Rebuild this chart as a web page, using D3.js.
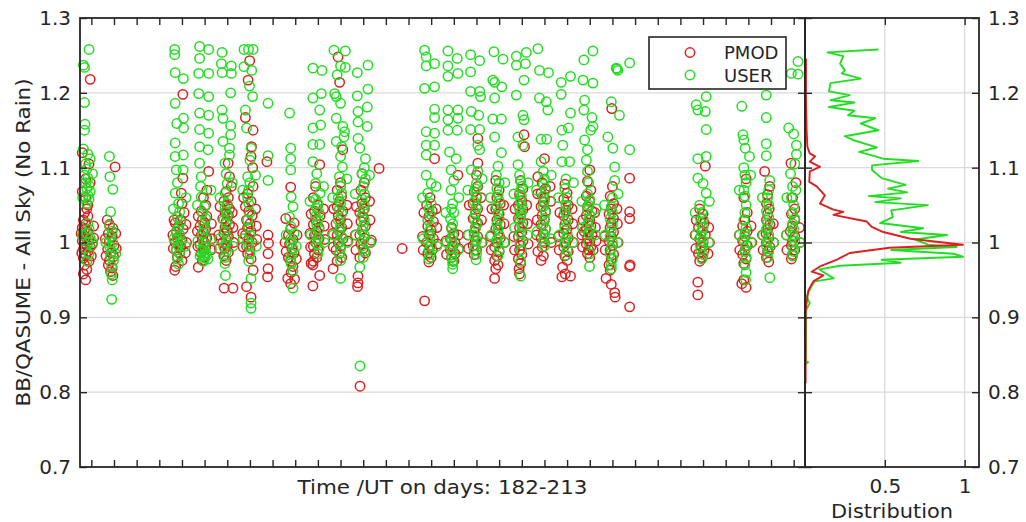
<!DOCTYPE html>
<html>
<head>
<meta charset="utf-8">
<script src="https://cdn.jsdelivr.net/npm/d3@7"></script>
<style>
    body { margin: 0; background: #fff; }
    #chart { width: 1026px; height: 522px; }
    text { font-family: "DejaVu Sans", sans-serif; fill: #262626; }
</style>
</head>
<body>
<div id="chart"></div>
<script>

// ---- data ----
const seriesNames = ["PMOD", "USER"];
const yTickValues = [0.7, 0.8, 0.9, 1.0, 1.1, 1.2, 1.3];
const yTickLabels = ["0.7", "0.8", "0.9", "1", "1.1", "1.2", "1.3"];
const distTickValues = [0.5, 1];
const distTickLabels = ["0.5", "1"];
const dayRange = [182, 213];

// [day (fractional), ratio]
const pmodPoints = [
    // 182
    [182.45,1.218],[182.10,1.120],[182.40,1.105],[182.25,1.085],[182.45,1.080],[182.10,1.068],[182.25,1.060],[182.35,1.050],
    [182.30,1.045],[182.20,1.040],[182.35,1.035],[182.15,1.030],[182.25,1.025],[182.10,1.020],[182.20,1.017],[182.35,1.014],
    [182.15,1.010],[182.25,1.007],[182.40,1.004],[182.10,1.002],[182.20,0.999],[182.30,0.996],[182.45,0.994],[182.15,0.991],
    [182.35,0.988],[182.25,0.984],[182.15,0.979],[182.40,0.975],[182.20,0.970],[182.30,0.964],[182.15,0.958],[182.25,0.950],
    [182.05,1.012],[182.60,1.006],[182.55,0.998],[182.08,0.986],[182.60,1.022],[182.50,0.982],
    // 183
    [183.55,1.101],[183.20,1.030],[183.30,1.024],[183.45,1.019],[183.25,1.012],[183.42,1.008],[183.30,1.002],[183.50,0.996],
    [183.22,0.991],[183.38,0.986],[183.48,0.981],[183.30,0.976],[183.25,0.970],[183.42,0.966],[183.35,0.961],[183.45,0.956],
    [183.12,1.005],[183.60,0.992],[183.15,0.982],[183.58,1.012],
    // 186
    [186.54,1.198],[186.54,1.086],[186.47,1.066],[186.50,1.052],[186.60,1.040],[186.30,1.034],[186.45,1.030],[186.20,1.026],
    [186.35,1.022],[186.55,1.018],[186.25,1.014],[186.40,1.010],[186.30,1.006],[186.50,1.003],[186.20,1.000],[186.35,0.997],
    [186.45,0.994],[186.25,0.990],[186.40,0.986],[186.30,0.981],[186.50,0.976],[186.22,0.968],[186.18,0.963],
    [186.10,1.010],[186.70,1.000],[186.12,0.992],[186.68,1.024],[186.65,0.986],[186.15,1.030],
    // 187
    [187.68,1.095],[187.60,1.070],[187.45,1.060],[187.55,1.050],[187.35,1.042],[187.60,1.035],[187.40,1.030],[187.50,1.026],
    [187.30,1.022],[187.55,1.018],[187.45,1.014],[187.35,1.010],[187.60,1.006],[187.40,1.003],[187.50,1.000],[187.30,0.997],
    [187.55,0.994],[187.45,0.990],[187.35,0.986],[187.50,0.981],[187.40,0.976],[187.22,0.967],
    [187.18,1.015],[187.82,1.005],[187.20,0.995],[187.80,1.025],[187.78,0.990],[187.22,1.035],
    // 188
    [188.54,1.106],[188.60,1.088],[188.68,1.075],[188.45,1.068],[188.55,1.060],[188.35,1.055],[188.50,1.050],[188.60,1.045],
    [188.40,1.040],[188.55,1.036],[188.30,1.032],[188.45,1.028],[188.60,1.024],[188.40,1.020],[188.50,1.016],[188.35,1.012],
    [188.55,1.008],[188.45,1.004],[188.30,1.000],[188.50,0.996],[188.40,0.992],[188.55,0.987],[188.35,0.982],[188.45,0.976],
    [188.36,0.939],[188.75,0.939],
    [188.12,1.010],[188.78,1.000],[188.15,0.992],[188.75,1.020],[188.72,1.040],[188.18,1.048],
    // 189
    [189.49,1.243],[189.42,1.217],[189.30,1.167],[189.64,1.150],[189.57,1.128],[189.55,1.115],[189.62,1.100],[189.64,1.075],
    [189.40,1.065],[189.55,1.055],[189.30,1.048],[189.45,1.042],[189.60,1.036],[189.35,1.030],[189.50,1.025],[189.40,1.020],
    [189.55,1.015],[189.30,1.010],[189.45,1.005],[189.60,1.000],[189.35,0.995],[189.50,0.990],[189.40,0.985],[189.55,0.978],
    [189.64,0.963],[189.35,0.941],[189.55,0.927],
    [189.18,1.012],[189.80,1.004],[189.20,0.994],[189.78,1.022],[189.75,1.045],[189.22,1.060],
    // 190
    [190.25,1.108],[190.30,1.010],[190.32,0.999],[190.30,0.985],[190.30,0.965],[190.28,0.954],
    // 191
    [191.30,1.074],[191.08,1.032],[191.45,1.026],[191.30,1.018],[191.20,1.010],[191.40,1.004],[191.25,0.998],[191.35,0.992],
    [191.45,0.986],[191.20,0.980],[191.30,0.975],[191.40,0.968],[191.32,0.960],[191.17,0.952],[191.47,0.951],[191.30,0.945],
    [191.05,1.000],[191.58,1.010],[191.10,0.988],[191.55,0.978],
    // 192
    [192.58,1.104],[192.40,1.075],[192.30,1.060],[192.50,1.050],[192.35,1.042],[192.60,1.036],[192.40,1.030],[192.30,1.024],
    [192.55,1.020],[192.45,1.015],[192.35,1.010],[192.55,1.005],[192.40,1.000],[192.30,0.995],[192.50,0.990],[192.35,0.985],
    [192.45,0.980],[192.30,0.975],[192.20,0.972],[192.28,0.970],[192.58,0.956],[192.28,0.942],
    [192.15,1.012],[192.80,1.004],[192.18,0.994],[192.78,1.022],[192.75,1.045],[192.20,1.038],
    // 193
    [193.39,1.248],[193.46,1.214],[193.60,1.124],[193.50,1.080],[193.35,1.070],[193.55,1.062],[193.45,1.055],[193.35,1.048],
    [193.60,1.042],[193.40,1.036],[193.50,1.030],[193.30,1.025],[193.55,1.020],[193.45,1.015],[193.35,1.010],[193.60,1.005],
    [193.40,1.000],[193.50,0.995],[193.30,0.990],[193.45,0.985],[193.55,0.980],[193.35,0.975],[193.17,0.965],
    [193.15,1.012],[193.82,1.002],[193.18,0.994],[193.80,1.025],[193.78,1.050],[193.20,1.045],
    // 194
    [194.45,1.092],[194.55,1.080],[194.40,1.070],[194.60,1.060],[194.45,1.052],[194.55,1.045],[194.35,1.040],[194.50,1.034],
    [194.40,1.028],[194.60,1.022],[194.45,1.016],[194.35,1.010],[194.55,1.006],[194.86,1.003],[194.40,0.998],[194.50,0.992],
    [194.60,0.986],[194.35,0.980],[194.27,0.955],[194.27,0.946],[194.25,0.941],[194.36,0.808],
    [194.15,1.010],[194.82,1.000],[194.18,0.990],[194.80,1.030],[194.78,1.055],[194.20,1.048],
    // 195 - 196
    [195.20,1.099],[196.22,0.992],
    // 197
    [197.65,1.112],[197.45,1.060],[197.30,1.050],[197.55,1.042],[197.40,1.035],[197.60,1.028],[197.35,1.022],[197.50,1.016],
    [197.40,1.010],[197.60,1.005],[197.30,1.000],[197.45,0.995],[197.55,0.990],[197.35,0.985],[197.50,0.980],[197.40,0.974],
    [197.21,0.922],
    [197.12,1.008],[197.78,0.998],[197.15,0.990],[197.75,1.020],[197.72,1.045],[197.18,1.040],
    // 198
    [198.68,1.090],[198.40,1.020],[198.50,1.012],[198.35,1.005],[198.55,1.000],[198.45,0.995],[198.35,0.990],[198.55,0.985],
    [198.40,0.980],[198.50,0.975],
    [198.15,1.002],[198.72,0.992],[198.18,0.984],[198.70,1.010],
    // 199
    [199.56,1.139],[199.56,1.106],[199.50,1.090],[199.55,1.075],[199.40,1.068],[199.50,1.060],[199.35,1.052],[199.55,1.045],
    [199.45,1.038],[199.35,1.032],[199.55,1.026],[199.45,1.020],[199.40,1.014],[199.55,1.008],[199.45,1.002],[199.35,0.996],
    [199.50,0.990],[199.40,0.984],
    [199.12,1.010],[199.75,1.000],[199.15,0.992],[199.72,1.030],[199.70,1.060],[199.18,1.050],
    // 200
    [200.35,1.083],[200.50,1.070],[200.40,1.060],[200.55,1.052],[200.35,1.045],[200.50,1.038],[200.40,1.030],[200.55,1.024],
    [200.35,1.018],[200.45,1.012],[200.55,1.006],[200.40,1.000],[200.30,0.994],[200.50,0.988],[200.40,0.982],[200.30,0.976],
    [200.45,0.970],[200.35,0.965],[200.30,0.952],
    [200.12,1.008],[200.75,1.000],[200.15,0.990],[200.72,1.025],[200.70,1.050],[200.18,1.045],
    // 201
    [201.60,1.144],[201.62,1.128],[201.45,1.083],[201.55,1.072],[201.40,1.064],[201.50,1.056],[201.35,1.050],[201.55,1.044],
    [201.45,1.038],[201.35,1.032],[201.55,1.026],[201.40,1.020],[201.50,1.014],[201.35,1.008],[201.55,1.002],[201.45,0.996],
    [201.40,0.990],[201.50,0.984],[201.35,0.978],[201.45,0.972],[201.38,0.965],[201.40,0.958],
    [201.15,1.008],[201.78,0.998],[201.18,0.990],[201.75,1.025],[201.72,1.050],[201.20,1.045],
    // 202
    [202.21,1.088],[202.50,1.112],[202.40,1.080],[202.55,1.072],[202.35,1.066],[202.50,1.060],[202.45,1.054],[202.35,1.048],
    [202.55,1.042],[202.40,1.036],[202.50,1.030],[202.35,1.024],[202.55,1.018],[202.45,1.012],[202.35,1.006],[202.50,1.000],
    [202.40,0.994],[202.21,0.988],[202.45,0.982],[202.35,0.976],
    [202.15,1.010],[202.80,1.000],[202.18,1.030],[202.78,1.055],[202.75,1.075],[202.20,1.065],
    // 203
    [203.40,1.078],[203.50,1.066],[203.35,1.058],[203.55,1.050],[203.45,1.043],[203.35,1.036],[203.55,1.030],[203.40,1.024],
    [203.50,1.018],[203.35,1.012],[203.55,1.006],[203.45,1.000],[203.35,0.994],[203.55,0.988],[203.40,0.982],[203.50,0.976],
    [203.30,0.967],[203.42,0.958],[203.27,0.954],[203.65,0.955],
    [203.12,1.008],[203.78,1.000],[203.15,0.990],[203.75,1.025],[203.72,1.045],[203.18,1.040],
    // 204
    [204.50,1.097],[204.40,1.082],[204.55,1.070],[204.35,1.062],[204.50,1.055],[204.40,1.048],[204.60,1.042],[204.35,1.036],
    [204.50,1.030],[204.45,1.026],[204.55,1.022],[204.35,1.018],[204.45,1.014],[204.60,1.010],[204.40,1.006],[204.50,1.002],
    [204.35,0.998],[204.55,0.994],[204.45,0.990],[204.40,0.985],[204.50,0.980],
    [204.15,1.010],[204.78,1.002],[204.18,0.994],[204.75,1.020],[204.72,1.040],[204.20,1.030],[204.65,0.990],[204.25,1.015],
    // 205
    [205.47,1.179],[205.50,1.075],[205.40,1.062],[205.55,1.052],[205.45,1.045],[205.35,1.038],[205.55,1.032],[205.45,1.026],
    [205.40,1.020],[205.55,1.014],[205.45,1.008],[205.35,1.002],[205.50,0.996],[205.40,0.990],[205.55,0.984],[205.45,0.978],
    [205.35,0.970],[205.40,0.963],[205.22,0.952],[205.45,0.944],[205.60,0.933],[205.62,0.927],
    [205.15,1.008],[205.75,1.000],[205.18,0.990],[205.72,1.025],[205.70,1.045],
    // 206
    [206.26,1.086],[206.26,1.041],[206.26,1.032],[206.28,0.970],[206.26,0.968],[206.26,0.914],
    // 209
    [209.60,1.102],[209.35,1.045],[209.50,1.038],[209.40,1.032],[209.55,1.026],[209.30,1.020],[209.45,1.015],[209.60,1.010],
    [209.35,1.005],[209.50,1.000],[209.40,0.995],[209.55,0.990],[209.30,0.985],[209.45,0.980],[209.35,0.975],[209.27,0.947],
    [209.27,0.930],
    [209.15,1.010],[209.78,1.000],[209.18,0.992],[209.75,1.020],[209.72,0.985],[209.20,1.030],
    // 211
    [211.40,1.085],[211.30,1.060],[211.45,1.040],[211.35,1.030],[211.25,1.022],[211.45,1.015],[211.35,1.008],[211.25,1.002],
    [211.45,0.996],[211.35,0.990],[211.25,0.984],[211.40,0.978],[211.30,0.972],[211.21,0.945],[211.40,0.940],[211.30,0.950],
    [211.10,1.010],[211.65,1.000],[211.12,0.990],[211.62,1.022],
    // 212
    [212.22,1.095],[212.44,1.075],[212.35,1.064],[212.30,1.052],[212.42,1.045],[212.35,1.038],[212.30,1.030],[212.45,1.024],
    [212.35,1.018],[212.28,1.012],[212.40,1.006],[212.30,1.000],[212.45,0.994],[212.35,0.988],[212.30,0.980],[212.40,0.974],
    [212.12,1.010],[212.62,1.000],[212.15,0.990],[212.60,1.025],
    // 213
    [213.38,1.106],[213.60,1.080],[213.45,1.060],[213.55,1.045],[213.40,1.038],[213.55,1.030],[213.45,1.022],[213.35,1.015],
    [213.55,1.008],[213.45,1.002],[213.40,0.996],[213.55,0.990],[213.45,0.984],[213.40,0.978],
    [213.18,1.010],[213.78,1.000],[213.20,0.990],[213.75,1.020]
];

const userPoints = [
    // 182
    [182.40,1.258],[182.15,1.237],[182.20,1.234],[182.20,1.187],[182.22,1.158],[182.20,1.150],[182.15,1.125],[182.35,1.118],
    [182.45,1.112],[182.25,1.105],[182.30,1.098],[182.20,1.090],[182.35,1.086],[182.25,1.080],[182.40,1.076],[182.30,1.072],
    [182.45,1.068],[182.35,1.063],[182.40,1.058],[182.30,1.052],[182.35,1.025],[182.40,1.018],[182.30,1.012],[182.45,1.006],
    [182.35,1.000],[182.25,0.992],[182.40,0.985],[182.30,0.975],
    [182.10,1.010],[182.55,1.000],[182.12,1.060],[182.55,1.092],
    // 183
    [183.30,1.115],[183.32,1.088],[183.45,1.071],[183.35,1.041],[183.30,1.022],[183.42,1.015],[183.35,1.008],[183.45,1.000],
    [183.30,0.995],[183.40,0.988],[183.35,0.982],[183.48,0.976],[183.40,0.968],[183.38,0.958],[183.42,0.950],[183.40,0.924],
    [183.15,1.000],[183.58,0.985],
    // 186
    [186.18,1.258],[186.18,1.251],[186.20,1.227],[186.56,1.219],[186.20,1.186],[186.57,1.166],[186.27,1.159],[186.57,1.153],
    [186.20,1.133],[186.20,1.115],[186.56,1.117],[186.25,1.097],[186.55,1.097],[186.30,1.080],[186.20,1.066],[186.35,1.052],
    [186.40,1.041],[186.30,1.034],[186.45,1.028],[186.35,1.020],[186.25,1.015],[186.40,1.010],[186.30,1.005],[186.45,1.000],
    [186.35,0.995],[186.25,0.990],[186.40,0.985],[186.30,0.978],[186.35,0.971],
    [186.15,1.005],[186.65,0.995],[186.12,1.045],[186.68,1.060],
    // 187
    [187.28,1.262],[187.68,1.258],[187.28,1.246],[187.24,1.226],[187.68,1.226],[187.24,1.199],[187.68,1.195],[187.28,1.173],
    [187.68,1.170],[187.28,1.151],[187.68,1.146],[187.28,1.128],[187.65,1.124],[187.28,1.106],[187.35,1.088],[187.32,1.075],
    [187.35,1.061],[187.50,1.048],[187.40,1.040],[187.55,1.032],[187.45,1.025],[187.50,1.018],[187.40,1.012],[187.55,1.005],
    [187.45,1.000],[187.50,0.994],[187.40,0.990],[187.55,0.986],[187.45,0.982],[187.50,0.979],[187.45,0.975],[187.60,0.983],
    [187.20,1.002],[187.80,0.992],[187.18,1.050],[187.78,1.070],[187.65,0.978],[187.30,0.982],
    // 188
    [188.27,1.254],[188.24,1.239],[188.68,1.236],[188.27,1.227],[188.68,1.226],[188.65,1.200],[188.27,1.177],[188.31,1.166],
    [188.65,1.156],[188.65,1.144],[188.31,1.135],[188.60,1.126],[188.60,1.117],[188.40,1.106],[188.45,1.092],[188.50,1.079],
    [188.40,1.066],[188.50,1.052],[188.45,1.041],[188.40,1.046],[188.50,1.036],[188.35,1.030],[188.45,1.025],[188.40,1.015],
    [188.50,1.008],[188.45,1.000],[188.35,0.994],[188.45,0.988],[188.40,0.980],[188.40,0.972],[188.42,0.956],
    [188.15,1.005],[188.75,0.995],[188.18,1.060],[188.72,1.080],
    // 189
    [189.24,1.258],[189.44,1.258],[189.64,1.258],[189.24,1.235],[189.58,1.230],[189.48,1.209],[189.62,1.195],[189.30,1.177],
    [189.35,1.153],[189.55,1.126],[189.50,1.110],[189.40,1.088],[189.50,1.080],[189.45,1.070],[189.40,1.060],[189.45,1.052],
    [189.50,1.040],[189.40,1.030],[189.45,1.020],[189.50,1.010],[189.40,1.002],[189.45,0.995],[189.50,0.985],[189.45,0.975],
    [189.55,0.952],[189.55,0.919],[189.55,0.912],
    [189.20,1.005],[189.78,0.995],[189.18,1.070],[189.75,1.090],
    // 190
    [190.30,1.186],[190.30,1.116],[190.30,1.083],
    // 191
    [191.25,1.173],[191.30,1.126],[191.30,1.112],[191.30,1.097],[191.32,1.061],[191.40,1.048],[191.25,1.034],[191.32,1.021],
    [191.45,1.012],[191.30,1.005],[191.32,0.999],[191.40,0.992],[191.35,0.985],[191.30,0.978],[191.32,0.972],[191.40,0.962],
    [191.40,0.939],
    [191.10,1.010],[191.55,0.995],
    // 192
    [192.28,1.233],[192.68,1.230],[192.65,1.199],[192.28,1.193],[192.58,1.177],[192.28,1.153],[192.62,1.157],[192.28,1.131],
    [192.58,1.131],[192.28,1.108],[192.45,1.092],[192.40,1.079],[192.60,1.066],[192.40,1.058],[192.50,1.052],[192.45,1.046],
    [192.55,1.040],[192.40,1.035],[192.50,1.030],[192.45,1.024],[192.55,1.018],[192.40,1.012],[192.50,1.005],[192.45,0.998],
    [192.55,0.992],[192.50,0.985],
    [192.18,1.010],[192.78,1.000],[192.15,1.055],[192.75,1.075],
    // 193
    [193.21,1.257],[193.71,1.256],[193.50,1.236],[193.71,1.234],[193.35,1.224],[193.24,1.199],[193.31,1.195],[193.50,1.186],
    [193.31,1.166],[193.60,1.155],[193.68,1.148],[193.65,1.141],[193.31,1.135],[193.55,1.128],[193.50,1.115],[193.58,1.101],
    [193.45,1.088],[193.50,1.075],[193.55,1.066],[193.40,1.060],[193.50,1.052],[193.45,1.045],[193.55,1.038],[193.40,1.030],
    [193.50,1.022],[193.45,1.015],[193.55,1.008],[193.45,1.000],[193.50,0.992],[193.45,0.985],[193.50,0.976],[193.50,0.952],
    [193.18,1.010],[193.80,1.000],[193.15,1.060],[193.78,1.085],
    // 194
    [194.71,1.237],[194.24,1.227],[194.71,1.205],[194.24,1.196],[194.68,1.181],[194.27,1.175],[194.27,1.161],[194.68,1.155],
    [194.27,1.139],[194.35,1.126],[194.60,1.112],[194.55,1.100],[194.45,1.092],[194.60,1.085],[194.50,1.075],[194.55,1.065],
    [194.45,1.058],[194.55,1.050],[194.50,1.042],[194.45,1.035],[194.55,1.030],[194.50,1.022],[194.45,1.016],[194.55,1.010],
    [194.50,1.002],[194.45,0.995],[194.55,0.988],[194.50,0.980],[194.35,0.967],[194.36,0.835],
    [194.18,1.010],[194.80,1.000],[194.15,1.065],[194.78,1.090],
    // 197
    [197.21,1.257],[197.28,1.248],[197.28,1.236],[197.65,1.239],[197.21,1.206],[197.65,1.208],[197.65,1.178],[197.65,1.167],
    [197.28,1.148],[197.65,1.146],[197.28,1.130],[197.65,1.130],[197.28,1.117],[197.28,1.090],[197.50,1.079],[197.35,1.066],
    [197.50,1.052],[197.40,1.045],[197.45,1.038],[197.35,1.030],[197.50,1.022],[197.40,1.015],[197.45,1.008],[197.35,1.002],
    [197.50,0.996],[197.40,0.990],[197.45,0.984],[197.40,0.978],
    [197.15,1.005],[197.75,0.995],[197.12,1.060],[197.72,1.075],
    // 198
    [198.24,1.256],[198.65,1.246],[198.24,1.236],[198.68,1.226],[198.24,1.222],[198.24,1.177],[198.68,1.177],[198.24,1.164],
    [198.68,1.166],[198.24,1.150],[198.65,1.150],[198.31,1.121],[198.60,1.112],[198.38,1.097],[198.50,1.083],[198.38,1.070],
    [198.45,1.052],[198.40,1.045],[198.50,1.040],[198.35,1.032],[198.45,1.025],[198.40,1.018],[198.45,1.010],[198.40,1.004],
    [198.45,0.998],[198.40,0.992],[198.45,0.986],[198.40,0.980],[198.45,0.975],[198.45,0.971],[198.45,0.965],
    [198.18,1.000],[198.70,0.990],[198.15,1.040],[198.72,1.060],
    // 199
    [199.24,1.251],[199.64,1.243],[199.24,1.228],[199.24,1.202],[199.64,1.202],[199.68,1.195],[199.27,1.175],[199.60,1.170],
    [199.24,1.151],[199.64,1.151],[199.56,1.130],[199.64,1.124],[199.27,1.097],[199.56,1.095],[199.50,1.079],[199.45,1.072],
    [199.50,1.062],[199.40,1.055],[199.50,1.048],[199.45,1.040],[199.40,1.032],[199.50,1.025],[199.45,1.018],[199.40,1.010],
    [199.50,1.003],[199.45,0.996],[199.40,0.990],[199.50,0.984],[199.48,0.977],
    [199.15,1.010],[199.72,1.000],[199.12,1.070],[199.75,1.085],
    // 200
    [200.27,1.255],[200.67,1.245],[200.22,1.217],[200.30,1.214],[200.62,1.208],[200.30,1.193],[200.22,1.165],[200.60,1.165],
    [200.30,1.141],[200.60,1.120],[200.45,1.102],[200.38,1.090],[200.50,1.080],[200.40,1.072],[200.45,1.064],[200.50,1.056],
    [200.40,1.048],[200.45,1.040],[200.50,1.032],[200.40,1.025],[200.45,1.018],[200.50,1.010],[200.40,1.004],[200.45,0.998],
    [200.50,0.990],[200.45,0.982],
    [200.15,1.010],[200.72,1.000],[200.12,1.060],[200.75,1.080],
    // 201
    [201.26,1.249],[201.70,1.254],[201.66,1.239],[201.26,1.237],[201.60,1.217],[201.26,1.197],[201.55,1.170],[201.60,1.164],
    [201.33,1.141],[201.55,1.130],[201.33,1.104],[201.40,1.090],[201.45,1.082],[201.50,1.075],[201.42,1.068],[201.48,1.062],
    [201.45,1.055],[201.50,1.050],[201.40,1.045],[201.48,1.040],[201.45,1.035],[201.42,1.030],[201.50,1.022],[201.45,1.012],
    [201.42,1.000],[201.48,0.990],[201.45,0.975],[201.45,0.955],
    [201.18,1.020],[201.75,1.010],[201.15,1.065],[201.78,1.080],
    // 202
    [202.21,1.259],[202.28,1.230],[202.68,1.227],[202.28,1.193],[202.58,1.188],[202.65,1.177],[202.35,1.138],[202.60,1.138],
    [202.35,1.108],[202.45,1.095],[202.50,1.085],[202.45,1.078],[202.55,1.070],[202.45,1.062],[202.50,1.055],[202.45,1.048],
    [202.55,1.040],[202.50,1.032],[202.45,1.025],[202.55,1.018],[202.50,1.010],[202.45,1.002],[202.50,0.995],
    [202.18,1.015],[202.78,1.005],[202.15,1.070],[202.80,1.090],
    // 203
    [203.65,1.222],[203.24,1.214],[203.24,1.198],[203.65,1.173],[203.56,1.153],[203.27,1.150],[203.31,1.130],[203.27,1.108],
    [203.61,1.108],[203.45,1.085],[203.40,1.072],[203.50,1.060],[203.45,1.050],[203.40,1.042],[203.50,1.035],[203.45,1.028],
    [203.40,1.020],[203.50,1.012],[203.45,1.005],[203.40,0.998],[203.50,0.990],[203.45,0.983],
    [203.15,1.010],[203.75,1.000],[203.12,1.060],[203.78,1.080],
    // 204
    [204.64,1.256],[204.24,1.244],[204.20,1.217],[204.64,1.213],[204.27,1.190],[204.24,1.177],[204.60,1.167],[204.64,1.155],
    [204.54,1.150],[204.27,1.137],[204.40,1.124],[204.35,1.110],[204.40,1.095],[204.45,1.080],[204.40,1.065],[204.50,1.057],
    [204.45,1.050],[204.40,1.043],[204.50,1.036],[204.45,1.030],[204.40,1.024],[204.50,1.018],[204.45,1.012],[204.45,1.000],
    [204.50,0.985],[204.49,0.968],
    [204.18,1.020],[204.75,1.010],[204.15,1.055],[204.78,1.045],
    // 205 - 206
    [205.67,1.233],[205.74,1.230],[205.45,1.188],[205.81,1.170],[205.30,1.141],[205.52,1.126],[205.60,1.101],[205.60,1.083],
    [205.50,1.060],[205.45,1.048],[205.50,1.040],[205.40,1.032],[205.50,1.024],[205.45,1.016],[205.40,1.008],[205.50,1.000],
    [205.45,0.992],[205.40,0.985],[205.50,0.978],[205.45,0.970],[205.45,0.965],
    [205.18,1.010],[205.72,1.000],[205.15,1.050],[205.75,1.065],
    [206.26,1.240],[205.70,1.232],[206.26,1.124],
    // 209
    [209.64,1.195],[209.20,1.184],[209.27,1.177],[209.60,1.175],[209.64,1.151],[209.27,1.112],[209.64,1.115],[209.27,1.086],
    [209.50,1.079],[209.64,1.066],[209.35,1.050],[209.45,1.040],[209.50,1.032],[209.40,1.026],[209.50,1.020],[209.45,1.014],
    [209.40,1.008],[209.50,1.002],[209.45,0.996],[209.40,0.990],[209.50,0.984],[209.45,0.978],
    [209.18,1.010],[209.75,1.000],[209.15,1.040],[209.78,1.055],
    // 211
    [211.21,1.182],[211.26,1.144],[211.30,1.137],[211.36,1.126],[211.55,1.115],[211.30,1.100],[211.35,1.090],[211.40,1.080],
    [211.30,1.070],[211.35,1.062],[211.40,1.050],[211.35,1.040],[211.30,1.030],[211.40,1.020],[211.35,1.012],[211.30,1.004],
    [211.40,0.996],[211.35,0.988],[211.40,0.980],[211.35,0.970],[211.40,0.960],[211.38,0.950],
    [211.12,1.010],[211.62,1.000],[211.10,1.070],[211.60,1.090],
    // 212
    [212.29,1.197],[212.29,1.167],[212.29,1.132],[212.29,1.116],[212.44,1.083],[212.40,1.070],[212.35,1.060],[212.40,1.050],
    [212.30,1.042],[212.40,1.034],[212.35,1.026],[212.30,1.018],[212.40,1.010],[212.35,1.002],[212.30,0.995],[212.40,0.988],
    [212.35,0.980],[212.45,0.953],
    [212.15,1.010],[212.62,1.000],[212.12,1.060],
    // 213
    [213.69,1.242],[213.40,1.226],[213.69,1.225],[213.28,1.153],[213.50,1.145],[213.62,1.130],[213.62,1.118],[213.55,1.105],
    [213.36,1.092],[213.45,1.075],[213.60,1.070],[213.40,1.060],[213.50,1.050],[213.45,1.040],[213.55,1.032],[213.45,1.025],
    [213.50,1.018],[213.45,1.010],[213.55,1.002],[213.45,0.995],[213.50,0.988],[213.45,0.982],
    [213.18,1.010],[213.78,1.000],[213.20,1.060]
];

// [ratio, normalised distribution]
const pmodDist = [
    [1.246,0.006],[1.195,0.006],[1.150,0.010],[1.128,0.015],[1.119,0.030],[1.115,0.063],[1.108,0.030],[1.101,0.094],
    [1.095,0.030],[1.081,0.027],[1.075,0.073],[1.063,0.125],[1.052,0.094],[1.044,0.178],[1.041,0.240],[1.037,0.178],
    [1.028,0.387],[1.021,0.418],[1.014,0.490],[1.005,0.660],[0.997,0.990],[0.993,0.530],[0.986,0.280],[0.977,0.200],
    [0.968,0.094],[0.961,0.042],[0.956,0.115],[0.948,0.052],[0.936,0.021],[0.919,0.010],[0.908,0.004],[0.842,0.004],
    [0.812,0.004]
];

const userDist = [
    [1.258,0.46],[1.254,0.14],[1.249,0.24],[1.239,0.22],[1.230,0.25],[1.226,0.23],[1.219,0.35],[1.213,0.16],
    [1.202,0.15],[1.197,0.28],[1.190,0.16],[1.187,0.31],[1.181,0.15],[1.176,0.31],[1.170,0.27],[1.166,0.44],
    [1.159,0.35],[1.150,0.46],[1.142,0.25],[1.137,0.30],[1.127,0.45],[1.121,0.34],[1.112,0.49],[1.109,0.71],
    [1.103,0.42],[1.097,0.42],[1.086,0.48],[1.077,0.63],[1.072,0.52],[1.067,0.64],[1.062,0.40],[1.059,0.60],
    [1.054,0.44],[1.050,0.77],[1.043,0.54],[1.034,0.55],[1.026,0.47],[1.019,0.74],[1.014,0.60],[1.010,0.89],
    [1.004,0.69],[0.997,0.77],[0.994,0.95],[0.990,0.54],[0.985,0.93],[0.981,0.99],[0.977,0.48],[0.973,0.60],
    [0.969,0.22],[0.964,0.09],[0.952,0.18],[0.948,0.06],[0.941,0.04],[0.928,0.01],[0.919,0.03],[0.910,0.008],
    [0.842,0.005],[0.840,0.020],[0.838,0.005]
];

class ScatterDistVis {

    constructor(parentElement, pmod, user, pmodDist, userDist) {
        this.parentElement = parentElement;
        this.pmod = pmod;
        this.user = user;
        this.pmodDist = pmodDist;
        this.userDist = userDist;
        this.colors = { PMOD: "#dc1f1f", USER: "#22de22" };
        this.initVis();
    }

    initVis() {
        let vis = this;

        vis.box = { left: 80, mid: 805, right: 979, top: 18, bottom: 467 };

        vis.svg = d3.select(vis.parentElement).append("svg")
            .attr("width", 1026)
            .attr("height", 522);

        // scales
        vis.xScale = d3.scaleLinear()
            .domain([dayRange[0], dayRange[1] + 1])
            .range([vis.box.left, vis.box.mid]);

        vis.yScale = d3.scaleLinear()
            .domain([0.7, 1.3])
            .range([vis.box.bottom, vis.box.top]);

        vis.dScale = d3.scaleLinear()
            .domain([0, 1.09])
            .range([vis.box.mid, vis.box.right]);

        // grid
        vis.grid = vis.svg.append("g").attr("class", "grid");
        vis.grid.selectAll(".hgrid")
            .data(yTickValues.slice(1, -1))
            .enter().append("line")
            .attr("class", "hgrid")
            .attr("x1", vis.box.left).attr("x2", vis.box.right)
            .attr("y1", d => vis.yScale(d)).attr("y2", d => vis.yScale(d))
            .attr("stroke", "#dadada").attr("stroke-width", 1.3);
        vis.grid.selectAll(".vgrid")
            .data(distTickValues)
            .enter().append("line")
            .attr("class", "vgrid")
            .attr("x1", d => vis.dScale(d)).attr("x2", d => vis.dScale(d))
            .attr("y1", vis.box.top).attr("y2", vis.box.bottom)
            .attr("stroke", "#dadada").attr("stroke-width", 1.3);

        vis.plotArea = vis.svg.append("g");
        vis.distArea = vis.svg.append("g");
        vis.axesArea = vis.svg.append("g").attr("class", "axes");

        vis.wrangleData();
    }

    wrangleData() {
        let vis = this;
        // PMOD drawn first, USER on top
        vis.displayData = [
            { key: seriesNames[0], values: vis.pmod },
            { key: seriesNames[1], values: vis.user }
        ];
        vis.distData = [
            { key: seriesNames[1], values: vis.userDist },
            { key: seriesNames[0], values: vis.pmodDist }
        ];
        vis.updateVis();
    }

    updateVis() {
        let vis = this;
        let fs = 20;

        // scatter
        let groups = vis.plotArea.selectAll(".series")
            .data(vis.displayData)
            .enter().append("g")
            .attr("class", "series");

        groups.selectAll("circle")
            .data(d => d.values.map(v => ({ key: d.key, day: v[0], val: v[1] })))
            .enter().append("circle")
            .attr("cx", d => vis.xScale(d.day))
            .attr("cy", d => vis.yScale(d.val))
            .attr("r", 4.7)
            .attr("fill", "none")
            .attr("stroke", d => vis.colors[d.key])
            .attr("stroke-width", 1.5);

        // distributions
        let line = d3.line()
            .x(d => vis.dScale(d[1]))
            .y(d => vis.yScale(d[0]));

        vis.distArea.selectAll(".dist")
            .data(vis.distData)
            .enter().append("path")
            .attr("class", "dist")
            .attr("d", d => line(d.values))
            .attr("fill", "none")
            .attr("stroke", d => vis.colors[d.key])
            .attr("stroke-width", 1.9)
            .attr("stroke-linejoin", "round");

        // axes
        let dayTicks = d3.range(dayRange[0], dayRange[1] + 1).map(d => d + 0.5);
        let yFmt = d => yTickLabels[yTickValues.indexOf(d)];

        let axes = [
            { axis: d3.axisLeft(vis.yScale).tickValues(yTickValues).tickFormat(yFmt).tickPadding(9), x: vis.box.left, y: 0 },
            { axis: d3.axisRight(vis.yScale).tickValues(yTickValues).tickFormat(""), x: vis.box.left, y: 0, inner: true },
            { axis: d3.axisLeft(vis.yScale).tickValues(yTickValues).tickFormat(""), x: vis.box.mid, y: 0, inner: true },
            { axis: d3.axisRight(vis.yScale).tickValues(yTickValues).tickFormat(""), x: vis.box.mid, y: 0, inner: true },
            { axis: d3.axisRight(vis.yScale).tickValues(yTickValues).tickFormat(yFmt).tickPadding(9), x: vis.box.right, y: 0 },
            { axis: d3.axisLeft(vis.yScale).tickValues(yTickValues).tickFormat(""), x: vis.box.right, y: 0, inner: true },
            { axis: d3.axisTop(vis.xScale).tickValues(dayTicks).tickFormat(""), x: 0, y: vis.box.bottom, inner: true },
            { axis: d3.axisBottom(vis.xScale).tickValues(dayTicks).tickFormat(""), x: 0, y: vis.box.top, inner: true },
            { axis: d3.axisTop(vis.dScale).tickValues(distTickValues).tickFormat(""), x: 0, y: vis.box.bottom, inner: true },
            { axis: d3.axisBottom(vis.dScale).tickValues(distTickValues).tickFormat(""), x: 0, y: vis.box.top, inner: true },
            { axis: d3.axisBottom(vis.dScale).tickValues(distTickValues).tickFormat((d, i) => distTickLabels[i]).tickPadding(12), x: 0, y: vis.box.bottom }
        ];

        axes.forEach(a => {
            if (a.inner) a.axis.tickSizeInner(7).tickSizeOuter(0);
            else a.axis.tickSize(0);
            let g = vis.axesArea.append("g")
                .attr("transform", "translate(" + a.x + "," + a.y + ")")
                .call(a.axis);
            g.select(".domain").remove();
            g.selectAll("line").attr("stroke", "#262626").attr("stroke-width", 1.4);
            g.selectAll("text")
                .style("font-family", "'DejaVu Sans', sans-serif")
                .style("font-size", fs + "px")
                .attr("fill", "#262626");
        });

        // frames
        vis.axesArea.append("rect")
            .attr("x", vis.box.left).attr("y", vis.box.top)
            .attr("width", vis.box.mid - vis.box.left)
            .attr("height", vis.box.bottom - vis.box.top)
            .attr("fill", "none").attr("stroke", "#262626").attr("stroke-width", 1.8);
        vis.axesArea.append("rect")
            .attr("x", vis.box.mid).attr("y", vis.box.top)
            .attr("width", vis.box.right - vis.box.mid)
            .attr("height", vis.box.bottom - vis.box.top)
            .attr("fill", "none").attr("stroke", "#262626").attr("stroke-width", 1.8);

        // axis titles
        vis.svg.append("text")
            .attr("transform", "translate(30," + ((vis.box.top + vis.box.bottom) / 2) + ")rotate(-90)")
            .attr("text-anchor", "middle")
            .attr("textLength", 328)
            .attr("lengthAdjust", "spacingAndGlyphs")
            .style("font-size", fs + "px")
            .text("BB/QASUME - All Sky (No Rain)");

        vis.svg.append("text")
            .attr("x", (vis.box.left + vis.box.mid) / 2)
            .attr("y", 494)
            .attr("text-anchor", "middle")
            .attr("textLength", 290)
            .attr("lengthAdjust", "spacingAndGlyphs")
            .style("font-size", fs + "px")
            .text("Time /UT on days: " + dayRange[0] + "-" + dayRange[1]);

        vis.svg.append("text")
            .attr("x", (vis.box.mid + vis.box.right) / 2)
            .attr("y", 518)
            .attr("text-anchor", "middle")
            .attr("textLength", 122)
            .attr("lengthAdjust", "spacingAndGlyphs")
            .style("font-size", fs + "px")
            .text("Distribution");

        // legend
        let legend = vis.svg.append("g").attr("class", "legend");
        legend.append("rect")
            .attr("x", 649).attr("y", 37)
            .attr("width", 137).attr("height", 52)
            .attr("fill", "#fff").attr("stroke", "#262626").attr("stroke-width", 1.6);

        let items = legend.selectAll(".item")
            .data(seriesNames)
            .enter().append("g")
            .attr("class", "item")
            .attr("transform", (d, i) => "translate(690," + (52.5 + i * 22.5) + ")");
        items.append("circle")
            .attr("r", 4.7)
            .attr("fill", "none")
            .attr("stroke", d => vis.colors[d])
            .attr("stroke-width", 1.5);
        items.append("text")
            .attr("x", 34)
            .attr("y", 6.5)
            .style("font-size", "18px")
            .text(d => d);
    }
}

new ScatterDistVis(document.getElementById("chart"), pmodPoints, userPoints, pmodDist, userDist);

</script>
</body>
</html>
